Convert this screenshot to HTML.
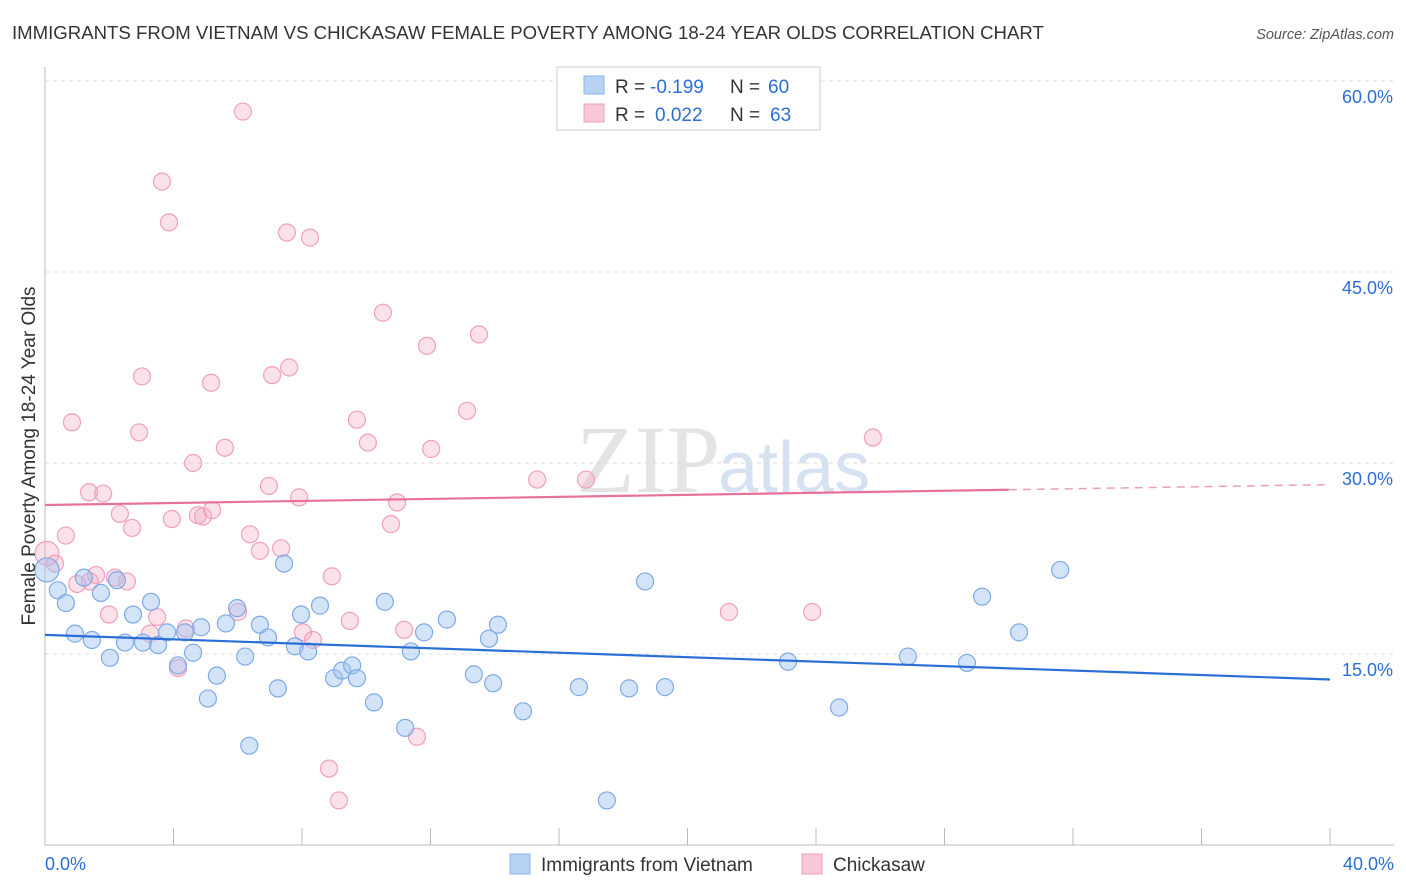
<!DOCTYPE html>
<html><head><meta charset="utf-8"><style>
body{margin:0;background:#fff;font-family:"Liberation Sans",sans-serif;}
svg{display:block}
</style></head><body>
<svg id="chart" width="1406" height="892">
<text x="12" y="39" font-size="18.6" fill="#333">IMMIGRANTS FROM VIETNAM VS CHICKASAW FEMALE POVERTY AMONG 18-24 YEAR OLDS CORRELATION CHART</text>
<text x="1394" y="39" font-size="14.5" fill="#555" text-anchor="end" font-style="italic">Source: ZipAtlas.com</text>
<text x="720" y="492" font-size="96" fill="#e4e4e4" text-anchor="end" font-family="Liberation Serif,serif">ZIP</text>
<text x="718" y="492" font-size="72" fill="#d6e2f2">atlas</text>
<g id="grid"></g><g id="axes"></g><g id="marks"></g>
<text transform="translate(35,456) rotate(-90)" font-size="19" fill="#333" text-anchor="middle">Female Poverty Among 18-24 Year Olds</text>
<g>
<rect x="557" y="67" width="263" height="63" fill="#fff" stroke="#ccc"/>
<rect x="584" y="76" width="20" height="18" fill="#b8d2f4" stroke="#8ab4e8"/>
<text x="615" y="93" font-size="19" fill="#333">R =</text>
<text x="650" y="93" font-size="19" fill="#2b6fd6">-0.199</text>
<text x="730" y="93" font-size="19" fill="#333">N =</text>
<text x="768" y="93" font-size="19" fill="#2b6fd6">60</text>
<rect x="584" y="104" width="20" height="18" fill="#f8c8d8" stroke="#f0a0b8"/>
<text x="615" y="121" font-size="19" fill="#333">R =</text>
<text x="655" y="121" font-size="19" fill="#2b6fd6">0.022</text>
<text x="730" y="121" font-size="19" fill="#333">N =</text>
<text x="770" y="121" font-size="19" fill="#2b6fd6">63</text>
</g>
<g>
<rect x="510" y="854" width="20" height="20" fill="#b8d2f4" stroke="#8ab4e8"/>
<text x="541" y="871" font-size="19" fill="#333">Immigrants from Vietnam</text>
<rect x="802" y="854" width="20" height="20" fill="#f8c8d8" stroke="#f0a0b8"/>
<text x="833" y="871" font-size="19" fill="#333">Chickasaw</text>
</g>
</svg>
<script>
const blueX=[0.06,0.40,0.65,0.93,1.46,2.02,1.74,2.24,1.21,2.49,2.74,3.05,3.30,3.52,3.80,4.14,4.36,4.61,4.86,5.07,5.35,5.63,5.98,6.23,6.36,6.69,6.94,7.25,7.44,7.78,7.97,8.19,8.56,9.00,9.25,9.56,9.71,10.24,10.58,11.21,11.39,11.80,12.51,13.35,13.82,13.95,14.10,14.88,16.62,17.49,18.18,18.68,19.30,23.13,24.72,26.86,28.70,29.17,30.32,31.60];
const blueY=[21.6,20.0,19.0,16.6,16.1,14.7,19.8,20.8,21.0,15.9,18.1,15.9,19.1,15.7,16.7,14.1,16.7,15.1,17.1,11.5,13.3,17.4,18.6,14.8,7.8,17.3,16.3,12.3,22.1,15.6,18.1,15.2,18.8,13.1,13.7,14.1,13.1,11.2,19.1,9.2,15.2,16.7,17.7,13.4,16.2,12.7,17.3,10.5,12.4,3.5,12.3,20.7,12.4,14.4,10.8,14.8,14.3,19.5,16.7,21.6];
const pinkX=[0.06,0.31,0.65,0.84,1.00,1.40,1.59,1.37,1.81,1.99,2.18,2.33,2.55,2.71,2.93,3.02,3.27,3.49,3.64,3.86,3.95,4.14,4.39,4.61,4.76,4.92,5.17,5.20,5.60,6.01,6.16,6.38,6.69,6.97,7.07,7.35,7.53,7.60,7.91,8.03,8.25,8.34,8.84,8.93,9.15,9.49,9.71,10.05,10.52,10.77,10.96,11.18,11.58,11.89,12.02,13.14,13.51,15.32,16.84,21.29,23.88,25.77];
const pinkY=[22.9,22.1,24.3,33.2,20.5,20.7,21.2,27.7,27.6,18.1,21.0,26.0,20.7,24.9,32.4,36.8,16.6,17.9,52.1,48.9,25.6,13.9,17.0,30.0,25.9,25.8,36.3,26.3,31.2,18.3,57.6,24.4,23.1,28.2,36.9,23.3,48.1,37.5,27.3,16.7,47.7,16.1,6.0,21.1,3.5,17.6,33.4,31.6,41.8,25.2,26.9,16.9,8.5,39.2,31.1,34.1,40.1,28.7,28.7,18.3,18.3,32.0];
const blueTrend=[16.5,13.0];
const pinkTrend=[26.7,28.3];
const yTicks=[15,30,45,60];
const xTickVals=[0,4,8,12,16,20,24,28,32,36,40];
const NS='http://www.w3.org/2000/svg';
const sx=v=>45+v*1285/40;
const sy=v=>654-(v-15)*191/15;
function mk(tag,attrs,parent){const e=document.createElementNS(NS,tag);for(const k in attrs)e.setAttribute(k,attrs[k]);document.getElementById(parent).appendChild(e);return e;}
yTicks.forEach(t=>{
 const l=mk('line',{x1:45,x2:1394,y1:sy(t),y2:sy(t),stroke:'#ddd','stroke-dasharray':'4,4'},'grid');
 
 
 const tx=mk('text',{x:1393,y:sy(t)+22,'font-size':18,fill:'#2b6fd6','text-anchor':'end'},'axes');tx.textContent=t.toFixed(1)+'%';
 
 
});
const xa=mk('line',{x1:45,x2:1394,y1:845,y2:845,stroke:'#bbb'},'axes');


const ya=mk('line',{x1:45,x2:45,y1:67,y2:845,stroke:'#bbb'},'axes');


xTickVals.forEach(t=>{
 const l=mk('line',{x1:sx(t),x2:sx(t),y1:828,y2:845,stroke:'#bbb'},'axes');
 
 
});
[[0,'start',45],[40,'end',1394]].forEach(([v,a,x])=>{
 const t=mk('text',{x:x,y:870,'font-size':18,fill:'#2b6fd6','text-anchor':a},'axes');t.textContent=v.toFixed(1)+'%';
 
 
});
function dots(X,Y,fill,stroke,name){X.forEach((x,i)=>{
 const c=mk('circle',{cx:sx(x),cy:sy(Y[i]),r:(i===0?12:8.5),fill:fill,stroke:stroke,'stroke-width':1.2},'marks');
 
 
});}
dots(pinkX,pinkY,'rgba(244,170,196,0.35)','#f0a0b8','chickasaw-point');
dots(blueX,blueY,'rgba(160,196,240,0.45)','#7eaae6','vietnam-point');
const bl=mk('line',{x1:sx(0),y1:sy(blueTrend[0]),x2:sx(40),y2:sy(blueTrend[1]),stroke:'#2b6fd6','stroke-width':2.2},'marks');


const pm=pinkTrend[0]+(pinkTrend[1]-pinkTrend[0])*30/40;
const pl=mk('line',{x1:sx(0),y1:sy(pinkTrend[0]),x2:sx(30),y2:sy(pm),stroke:'#e8709a','stroke-width':2.2},'marks');


const pd=mk('line',{x1:sx(30),y1:sy(pm),x2:sx(40),y2:sy(pinkTrend[1]),stroke:'#e8a0b8','stroke-width':1.5,'stroke-dasharray':'8,6'},'marks');


</script>
</body></html>
